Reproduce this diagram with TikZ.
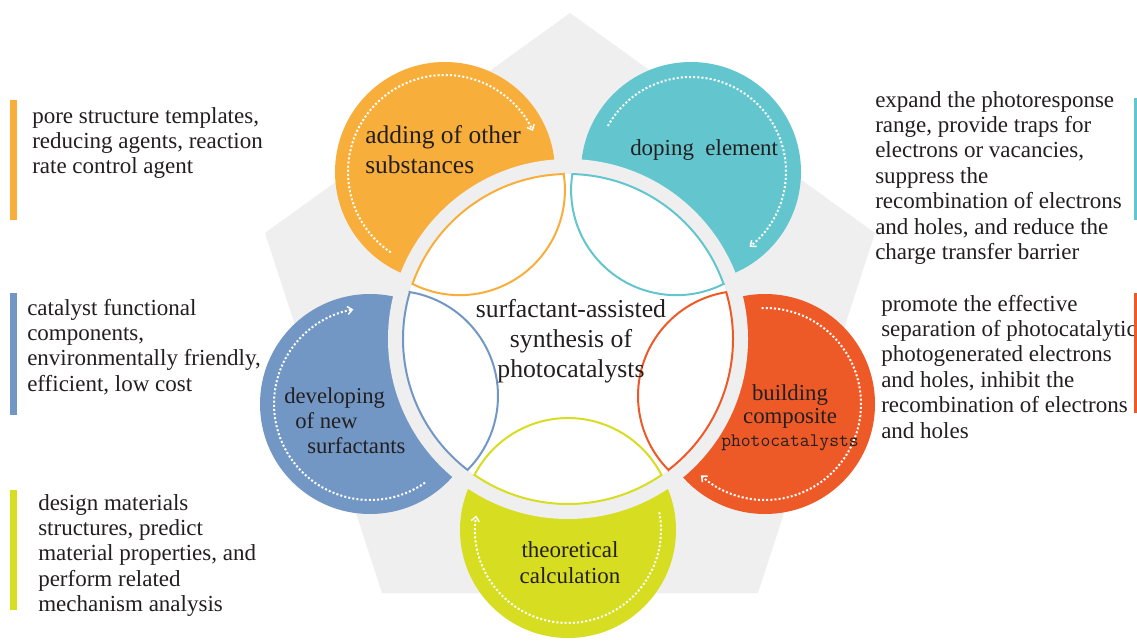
\documentclass[tikz,border=0pt]{standalone}
\usepackage{fontspec}
\setmainfont{Liberation Serif}
\usetikzlibrary{arrows.meta}

\definecolor{orng}{HTML}{F8AE3B}
\definecolor{cyn}{HTML}{63C6CE}
\definecolor{blu}{HTML}{7297C4}
\definecolor{redd}{HTML}{EE5A27}
\definecolor{ylw}{HTML}{D7DD21}
\definecolor{pent}{HTML}{F0EFF0}
\definecolor{ink}{HTML}{231F20}

% lines of a text block; the box baseline is that of the first line
\newcommand{\txtlines}[2][l]{\begin{tabular}[t]{@{}#1@{}}#2\end{tabular}}

\begin{document}
\begin{tikzpicture}[x=0.75pt,y=0.75pt,
  txt/.style={inner sep=0pt, text=ink},
  note/.style={txt, anchor=base west, font=\fontsize{17.25}{19.1}\selectfont},
  label/.style={txt, font=\fontsize{17.2}{19.5}\selectfont},
  bar/.style={fill=#1, draw=none},
  lensbox/.style={fill=white, draw=#1, line width=1.5pt},
  dots/.style={draw=white, line width=1.5pt, dash pattern=on 1.5pt off 1.6pt,
    -{Straight Barb[length=3.5pt, width=6pt, line width=1.1pt]}},
]
\useasboundingbox (0,0) rectangle (1137,-642);
\fill[white] (0,0) rectangle (1137,-642);

% grey pentagon behind the wheel
\fill[pent] (570,-13) -- (875,-233) -- (758,-593) -- (382,-593) -- (265,-233) -- cycle;

% centres
\coordinate (C0)  at (568,-339);
\coordinate (Oor) at (445,-172);
\coordinate (Ocy) at (691,-172);
\coordinate (Ore) at (765,-404);
\coordinate (Oyl) at (568,-530);
\coordinate (Obl) at (370,-404);

% coloured discs, cut by the grey ring round the hub
\fill[orng] (Oor) circle[radius=110];
\fill[cyn]  (Ocy) circle[radius=110];
\fill[redd] (Ore) circle[radius=110];
\fill[ylw]  (Oyl) circle[radius=108];
\fill[blu]  (Obl) circle[radius=110];
\fill[pent] (C0) circle[radius=180];
\fill[white] (C0) circle[radius=165];

% lens-shaped petals on the hub
\foreach \t/\c in {126/orng,54/cyn,-18/redd,-90/ylw,198/blu}{
  \pgfmathsetmacro{\sa}{\t-34.5}
  \pgfmathsetmacro{\ea}{\t+34.5}
  \pgfmathsetmacro{\sb}{\t+117.3}
  \pgfmathsetmacro{\eb}{\t+242.7}
  \draw[lensbox=\c] (C0) ++(\sa:165) arc[start angle=\sa, end angle=\ea, radius=165]
    arc[start angle=\sb, end angle=\eb, radius=105.2] -- cycle;
}

% dotted circular arrows inside the discs
\draw[dots] (Oor) ++(236:97) arc[start angle=236, end angle=25, radius=97];
\draw[dots] (Ocy) ++(151:95) arc[start angle=151, end angle=-52, radius=95];
\draw[dots] (Ore) ++(92:96) arc[start angle=92, end angle=-132, radius=96];
\draw[dots] (Oyl) ++(11:93) arc[start angle=11, end angle=-189, radius=93];
\draw[dots] (Obl) ++(305:96) arc[start angle=305, end angle=100, radius=96];

% hub text
\node[txt, anchor=base, font=\fontsize{19.3}{22.5}\selectfont] (hub) at (571,-317)
  {\txtlines[c]{surfactant-assisted\\synthesis of\\photocatalysts}};

% disc labels
\node[txt, anchor=base west, font=\fontsize{19.1}{22.5}\selectfont] (adding) at (365,-143)
  {\txtlines{adding of other\\substances}};
\node[label, anchor=base west] (doping) at (630,-155) {doping~~element};
\node[txt, anchor=base west, font=\fontsize{17}{18.75}\selectfont] (developing) at (284,-403)
  {\txtlines{developing\\\hspace*{8.25pt}of new\\\hspace*{17.25pt}surfactants}};
\node[txt, anchor=base, font=\fontsize{17.1}{17.6}\selectfont] (building) at (790,-400)
  {\txtlines[c]{building\\composite\\{\ttfamily\fontsize{14.3}{17.6}\selectfont photocatalysts}}};
\node[label, anchor=base] (theory) at (570,-557) {\txtlines[c]{theoretical\\calculation}};

% notes on the left
\fill[bar=orng] (10,-100) rectangle (17,-220);
\node[note] (noteor) at (32,-123)
  {\txtlines{pore structure templates,\\reducing agents, reaction\\rate control agent}};
\fill[bar=blu] (10,-293) rectangle (17,-415);
\node[note] (notebl) at (27,-315)
  {\txtlines{catalyst functional\\components,\\environmentally friendly,\\efficient, low cost}};
\fill[bar=ylw] (10,-490) rectangle (17,-610);
\node[note] (noteyl) at (38,-510)
  {\txtlines{design materials\\structures, predict\\material properties, and\\perform related\\mechanism analysis}};

% notes on the right
\node[note] (notecy) at (875,-107)
  {\txtlines{expand the photoresponse\\range, provide traps for\\electrons or vacancies,\\suppress the\\recombination of electrons\\and holes, and reduce the\\charge transfer barrier}};
\fill[bar=cyn] (1134,-98) rectangle (1141,-220);
\node[note] (notere) at (881,-311)
  {\txtlines{promote the effective\\separation of photocatalytic\\photogenerated electrons\\and holes, inhibit the\\recombination of electrons\\and holes}};
\fill[bar=redd] (1134,-293) rectangle (1141,-413);
\end{tikzpicture}
\end{document}
